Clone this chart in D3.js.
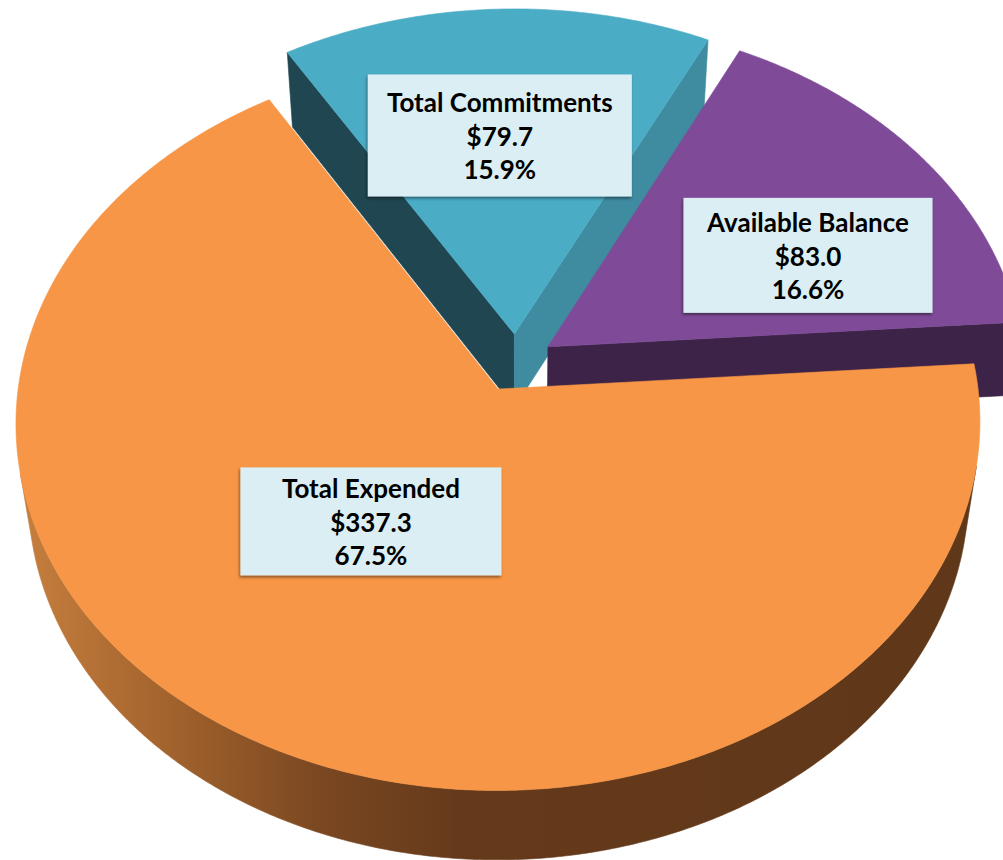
<!DOCTYPE html>
<html>
<head>
<meta charset="utf-8">
<script src="https://cdn.jsdelivr.net/npm/d3@7"></script>
<style>
  html, body { margin: 0; padding: 0; background: #ffffff; }
  svg { display: block; }
</style>
</head>
<body>
<svg id="chart" width="1003" height="860"></svg>
<script>
// ---- data ----
const categories = ["Total Expended", "Total Commitments", "Available Balance"];
const values = [337.3, 79.7, 83.0];

// ---- formatting ----
const fmtMoney = d3.format("$.1f");
const fmtPct = d3.format(".1%");

// ---- styles per slice ----
const sliceStyle = {
  "Total Expended":    { top: "#F79646", wallStart: "#8A5024", wallEnd: "#8A5024", side: "url(#sideOrange)" },
  "Total Commitments": { top: "#4BACC6", wallStart: "#1F4651", wallEnd: "#3F8BA0", side: "#2B6473" },
  "Available Balance": { top: "#7F4B98", wallStart: "#3D2348", wallEnd: "#3D2348", side: "#3D2348" }
};

// label box sizes and nudges (pixels) relative to the slice anchor
const labelBox = {
  "Total Expended":    { w: 261, h: 108, dx: 1,  dy: -54 },
  "Total Commitments": { w: 264, h: 122, dx: -4, dy: -13 },
  "Available Balance": { w: 249, h: 115, dx: 50, dy: 15 }
};

// ---- 3D view ----
const W = 1003, H = 860;
const tilt = 49 * Math.PI / 180, sT = Math.sin(tilt), cT = Math.cos(tilt);
const cam = { x0: 516, y0: 363, focal: 3433, dist: 7.2 };
const radius = 1, thickness = 0.24, explode = 0.081;
const rotation = 86 * Math.PI / 180;
const labelRadius = 0.55;

// world (X right, Y up, Z away) -> screen
function project(X, Y, Z) {
  const depth = cam.dist + Z * cT - Y * sT;
  const v = Z * sT + Y * cT;
  return [cam.x0 + cam.focal * X / depth, cam.y0 - cam.focal * v / depth];
}
const camPos = [0, cam.dist * sT, -cam.dist * cT];
function facing(nx, nz, px, py, pz) {
  return nx * (camPos[0] - px) + nz * (camPos[2] - pz) > 0;
}

const svg = d3.select("#chart");
const defs = svg.append("defs");

const grad = defs.append("linearGradient")
  .attr("id", "sideOrange")
  .attr("gradientUnits", "userSpaceOnUse")
  .attr("x1", 12).attr("y1", 0).attr("x2", 980).attr("y2", 0);
[[0, "#C8803F"], [0.14, "#A8672F"], [0.32, "#7A4721"], [0.46, "#653A1B"], [1, "#5F3719"]]
  .forEach(([o, c]) => grad.append("stop").attr("offset", o).attr("stop-color", c));

const shadow = defs.append("filter").attr("id", "boxShadow")
  .attr("x", "-10%").attr("y", "-10%").attr("width", "120%").attr("height", "130%");
shadow.append("feDropShadow").attr("dx", -1).attr("dy", 2).attr("stdDeviation", 1.5)
  .attr("flood-color", "#000").attr("flood-opacity", 0.45);

const data = categories.map((name, i) => ({ name, value: values[i] }));
const total = d3.sum(values);

const pie = d3.pie().sort(null).value(d => d.value)
  .startAngle(rotation).endAngle(rotation + 2 * Math.PI);
const arcs = pie(data);

const line = d3.line();
const poly = pts => line(pts) + "Z";
const step = Math.PI / 360;
function sampleAngles(a0, a1) {
  const n = Math.max(2, Math.ceil((a1 - a0) / step));
  return d3.range(n + 1).map(i => a0 + (a1 - a0) * i / n);
}

arcs.forEach(a => {
  a.mid = (a.startAngle + a.endAngle) / 2;
  a.cx = explode * Math.sin(a.mid);
  a.cz = explode * Math.cos(a.mid);
});

// paint far slices first
const order = arcs.slice().sort((p, q) => Math.cos(q.mid) - Math.cos(p.mid));

const gPie = svg.append("g");
order.forEach(a => {
  const st = sliceStyle[a.data.name];
  const g = gPie.append("g");
  const angs = sampleAngles(a.startAngle, a.endAngle);
  const rim = (ang, Y) => project(a.cx + radius * Math.sin(ang), Y, a.cz + radius * Math.cos(ang));

  // outer curved wall, only the parts turned toward the viewer
  let run = [];
  const runs = [];
  angs.forEach(ang => {
    const px = a.cx + radius * Math.sin(ang), pz = a.cz + radius * Math.cos(ang);
    if (facing(Math.sin(ang), Math.cos(ang), px, -thickness / 2, pz)) run.push(ang);
    else { if (run.length > 1) runs.push(run); run = []; }
  });
  if (run.length > 1) runs.push(run);
  runs.forEach(r => {
    const pts = r.map(ang => rim(ang, 0)).concat(r.slice().reverse().map(ang => rim(ang, -thickness)));
    g.append("path").attr("d", poly(pts)).attr("fill", st.side).attr("stroke", st.side).attr("stroke-width", 0.6);
  });

  // radial walls
  [[a.startAngle, -Math.PI / 2, st.wallStart], [a.endAngle, Math.PI / 2, st.wallEnd]].forEach(([ang, turn, col]) => {
    const nAng = ang + turn;
    const px = a.cx + 0.5 * radius * Math.sin(ang), pz = a.cz + 0.5 * radius * Math.cos(ang);
    if (!facing(Math.sin(nAng), Math.cos(nAng), px, -thickness / 2, pz)) return;
    const pts = [
      project(a.cx, 0, a.cz), rim(ang, 0), rim(ang, -thickness), project(a.cx, -thickness, a.cz)
    ];
    g.append("path").attr("d", poly(pts)).attr("fill", col).attr("stroke", col).attr("stroke-width", 0.6);
  });

  // top face
  const topPts = [project(a.cx, 0, a.cz)].concat(angs.map(ang => rim(ang, 0)));
  g.append("path").attr("d", poly(topPts)).attr("fill", st.top).attr("stroke", st.top).attr("stroke-width", 0.6);
});

// ---- data labels ----
const gLab = svg.append("g")
  .attr("font-family", "Lato, 'Open Sans', sans-serif")
  .attr("font-weight", 700)
  .attr("font-size", 26)
  .attr("fill", "#000");
const lineGap = 33.5;
arcs.forEach(a => {
  const lb = labelBox[a.data.name];
  const [ax, ay] = project(a.cx + labelRadius * Math.sin(a.mid), 0, a.cz + labelRadius * Math.cos(a.mid));
  const cx = ax + lb.dx, cy = ay + lb.dy;
  const g = gLab.append("g");
  g.append("rect")
    .attr("x", cx - lb.w / 2).attr("y", cy - lb.h / 2)
    .attr("width", lb.w).attr("height", lb.h)
    .attr("fill", "#DAEEF3")
    .attr("filter", "url(#boxShadow)");
  const lines = [a.data.name, fmtMoney(a.data.value), fmtPct(a.data.value / total)];
  lines.forEach((t, i) => {
    g.append("text")
      .attr("x", cx).attr("y", cy + (i - 1) * lineGap + 10.5)
      .attr("text-anchor", "middle")
      .text(t);
  });
});
</script>
</body>
</html>
